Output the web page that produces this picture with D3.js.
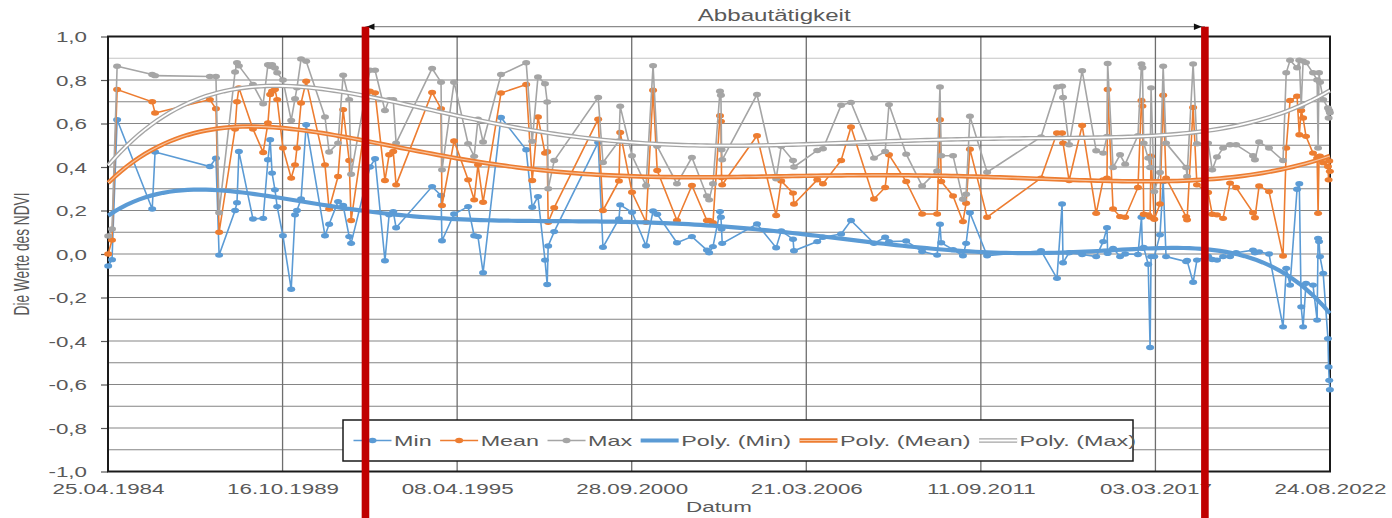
<!DOCTYPE html>
<html>
<head>
<meta charset="utf-8">
<script src="https://cdn.jsdelivr.net/npm/d3@7"></script>
<style>
  body { margin: 0; background: #fff; }
  text { font-family: "Liberation Sans", Arial, sans-serif; }
</style>
</head>
<body>
<div id="chart"></div>
<script>
// acquisition dates as decimal years
const dates = [
  1984.32, 1984.44, 1984.60, 1985.70, 1985.79, 1987.51, 1987.70, 1987.80, 1988.30, 1988.36,
  1988.42, 1988.86, 1989.18, 1989.33, 1989.40, 1989.46, 1989.55, 1989.62, 1989.80, 1990.06,
  1990.18, 1990.24, 1990.37, 1990.53, 1991.12, 1991.25, 1991.53, 1991.69, 1991.88, 1991.94,
  1992.53, 1992.69, 1993.00, 1993.13, 1993.26, 1993.35, 1994.48, 1994.76, 1994.79, 1995.17,
  1995.61, 1995.80, 1995.92, 1996.08, 1996.64, 1997.43, 1997.62, 1997.80, 1998.02, 1998.09,
  1998.12, 1998.31, 1999.69, 1999.84, 2000.34, 2000.38, 2000.75, 2001.19, 2001.41, 2001.54,
  2002.16, 2002.63, 2003.10, 2003.17, 2003.29, 2003.51, 2003.54, 2003.56, 2003.58, 2004.67,
  2005.27, 2005.43, 2005.80, 2005.83, 2006.56, 2006.74, 2007.31, 2007.62, 2008.34, 2008.69,
  2008.81, 2009.35, 2009.85, 2010.32, 2010.41, 2010.45, 2010.82, 2011.13, 2011.23, 2011.35,
  2011.89, 2013.58, 2014.08, 2014.24, 2014.27, 2014.46, 2014.87, 2015.31, 2015.53, 2015.65,
  2015.67, 2015.84, 2016.06, 2016.22, 2016.62, 2016.73, 2016.76, 2016.80, 2016.94, 2017.00,
  2017.03, 2017.13, 2017.31, 2017.41, 2017.50, 2018.13, 2018.16, 2018.35, 2018.47, 2018.82,
  2018.95, 2019.10, 2019.29, 2019.51, 2019.70, 2020.23, 2020.29, 2020.42, 2020.73, 2021.17,
  2021.27, 2021.39, 2021.61, 2021.68, 2021.74, 2021.80, 2021.89, 2022.11, 2022.24, 2022.27,
  2022.30, 2022.33, 2022.43, 2022.58, 2022.60, 2022.62, 2022.64
];

const minVals = [
  -0.055, -0.026, 0.617, 0.207, 0.469, 0.402, 0.44, -0.005, 0.20, 0.236,
  0.471, 0.161, 0.164, 0.433, 0.525, 0.372, 0.295, 0.218, 0.084, -0.162,
  0.18, 0.20, 0.253, 0.594, 0.084, 0.137, 0.241, 0.223, 0.08, 0.049,
  0.40, 0.438, -0.031, 0.18, 0.195, 0.121, 0.31, 0.269, 0.061, 0.184,
  0.218, 0.084, 0.08, -0.086, 0.628, 0.479, 0.215, 0.264, -0.028, -0.14,
  0.037, 0.103, 0.513, 0.031, 0.161, 0.226, 0.192, 0.038, 0.198, 0.183,
  0.052, 0.08, 0.018, 0.006, 0.034, 0.195, 0.169, 0.115, 0.049, 0.138,
  0.029, 0.106, 0.068, 0.015, 0.057, 0.077, 0.092, 0.154, 0.049, 0.077,
  0.057, 0.06, 0.011, -0.005, 0.137, 0.052, 0.02, -0.008, 0.049, 0.19,
  -0.008, 0.015, -0.112, 0.23, -0.04, 0.006, -0.002, -0.012, 0.057, 0.121,
  0.003, 0.026, -0.012, 0.0, -0.002, 0.169, 0.026, 0.03, -0.047, -0.43,
  -0.012, -0.012, 0.088, 0.333, -0.012, -0.035, -0.03, -0.13, -0.028, -0.01,
  -0.025, -0.028, -0.012, -0.012, 0.006, 0.018, 0.006, 0.01, 0.0, -0.335,
  -0.066, -0.143, 0.298, 0.323, -0.243, -0.335, -0.135, -0.143, -0.304, 0.072,
  0.057, -0.012, -0.089, -0.389, -0.519, -0.581, -0.624
];

const meanVals = [
  0.00, 0.064, 0.756, 0.70, 0.648, 0.71, 0.668, 0.10, 0.575, 0.70,
  0.764, 0.575, 0.467, 0.602, 0.733, 0.748, 0.756, 0.71, 0.487, 0.349,
  0.41, 0.487, 0.694, 0.794, 0.41, 0.207, 0.356, 0.664, 0.43, 0.154,
  0.748, 0.741, 0.338, 0.456, 0.471, 0.318, 0.743, 0.668, 0.223, 0.52,
  0.341, 0.249, 0.41, 0.238, 0.74, 0.779, 0.338, 0.63, 0.464, 0.47,
  0.146, 0.213, 0.62, 0.20, 0.336, 0.559, 0.284, 0.146, 0.753, 0.384,
  0.154, 0.315, 0.154, 0.154, 0.144, 0.636, 0.61, 0.352, 0.318, 0.544,
  0.177, 0.336, 0.28, 0.23, 0.341, 0.323, 0.43, 0.584, 0.253, 0.306,
  0.456, 0.333, 0.184, 0.184, 0.617, 0.333, 0.267, 0.149, 0.233, 0.482,
  0.169, 0.349, 0.556, 0.556, 0.51, 0.338, 0.591, 0.187, 0.341, 0.349,
  0.756, 0.207, 0.172, 0.169, 0.306, 0.706, 0.68, 0.183, 0.18, 0.17,
  0.45, 0.16, 0.23, 0.73, 0.349, 0.172, 0.157, 0.674, 0.318, 0.283,
  0.183, 0.18, 0.164, 0.326, 0.306, 0.19, 0.167, 0.313, 0.287, -0.009,
  0.487, 0.706, 0.725, 0.548, 0.66, 0.625, 0.541, 0.464, 0.441, 0.187,
  0.449, 0.45, 0.42, 0.402, 0.341, 0.428, 0.38
];

const maxVals = [
  0.083, 0.115, 0.863, 0.825, 0.82, 0.816, 0.816, 0.19, 0.837, 0.879,
  0.865, 0.779, 0.691, 0.87, 0.863, 0.87, 0.855, 0.833, 0.80, 0.614,
  0.714, 0.764, 0.897, 0.886, 0.63, 0.469, 0.51, 0.822, 0.71, 0.367,
  0.845, 0.845, 0.66, 0.71, 0.71, 0.51, 0.853, 0.79, 0.387, 0.79,
  0.507, 0.449, 0.62, 0.515, 0.825, 0.879, 0.518, 0.814, 0.783, 0.699,
  0.30, 0.43, 0.72, 0.421, 0.52, 0.679, 0.452, 0.315, 0.866, 0.495,
  0.323, 0.444, 0.267, 0.249, 0.323, 0.748, 0.73, 0.479, 0.433, 0.733,
  0.346, 0.495, 0.43, 0.40, 0.476, 0.484, 0.684, 0.697, 0.441, 0.471,
  0.687, 0.459, 0.313, 0.382, 0.768, 0.452, 0.452, 0.252, 0.275, 0.633,
  0.376, 0.538, 0.768, 0.771, 0.72, 0.502, 0.843, 0.475, 0.464, 0.541,
  0.876, 0.398, 0.456, 0.413, 0.544, 0.874, 0.856, 0.51, 0.441, 0.398,
  0.764, 0.287, 0.375, 0.863, 0.51, 0.398, 0.356, 0.874, 0.507, 0.51,
  0.387, 0.446, 0.487, 0.502, 0.502, 0.452, 0.433, 0.515, 0.487, 0.43,
  0.833, 0.891, 0.856, 0.891, 0.679, 0.887, 0.88, 0.833, 0.80, 0.487,
  0.833, 0.79, 0.71, 0.671, 0.625, 0.66, 0.65
];

const xTickLabels = ["25.04.1984", "16.10.1989", "08.04.1995", "28.09.2000",
                     "21.03.2006", "11.09.2011", "03.03.2017", "24.08.2022"];
const yTicks = [-1, -0.8, -0.6, -0.4, -0.2, 0, 0.2, 0.4, 0.6, 0.8, 1];
// start and end of mining activity (decimal years)
const abbau = [1992.39, 2018.72];
const abbauLabel = "Abbautätigkeit";
const seriesNames = ["Min", "Mean", "Max"];
const colors = ["#5b9bd5", "#ed7d31", "#a5a5a5"];

const width = 1392, height = 518;
const margin = { top: 36.5, right: 62, bottom: 46.5, left: 108 };
const sx = 1.6; // text is horizontally stretched in the original

function fromDecimalYear(v) {
  const y = Math.floor(v);
  const a = Date.UTC(y, 0, 1), b = Date.UTC(y + 1, 0, 1);
  return new Date(a + (v - y) * (b - a));
}
const parseDate = d3.utcParse("%d.%m.%Y");
const xTickDates = xTickLabels.map(parseDate);

const x = d3.scaleUtc()
  .domain([xTickDates[0], xTickDates[xTickDates.length - 1]])
  .range([margin.left, width - margin.right]);
const y = d3.scaleLinear()
  .domain([-1, 1])
  .range([height - margin.bottom, margin.top]);

const svg = d3.select("#chart").append("svg")
  .attr("width", width).attr("height", height);

function stretchText(g, txt, tx, ty, size, anchor, scale) {
  return g.append("text")
    .attr("transform", `translate(${tx},${ty}) scale(${scale},1)`)
    .attr("text-anchor", anchor)
    .attr("font-size", size)
    .attr("fill", "#595959")
    .text(txt);
}

// gridlines
const grid = svg.append("g");
grid.selectAll("line.h")
  .data(d3.range(-10, 11).map(i => i / 10))
  .join("line")
    .attr("x1", margin.left).attr("x2", width - margin.right)
    .attr("y1", d => y(d)).attr("y2", d => y(d))
    .attr("stroke", d => Math.abs(d - 0.9) < 1e-6 ? "#c4c4c4" : "#858585")
    .attr("stroke-width", 1.2);
grid.selectAll("line.v")
  .data(xTickDates.slice(1, -1))
  .join("line")
    .attr("x1", d => x(d)).attr("x2", d => x(d))
    .attr("y1", margin.top).attr("y2", height - margin.bottom)
    .attr("stroke", "#6e6e6e")
    .attr("stroke-width", 1.3);

// axes
const yAxis = svg.append("g")
  .attr("transform", `translate(${margin.left},0)`)
  .call(d3.axisLeft(y).tickValues(yTicks).tickSize(7)
    .tickFormat(d => d3.format(".1f")(d).replace(".", ",").replace("−", "-")));
yAxis.select(".domain").remove();
yAxis.selectAll(".tick line").attr("stroke", "#595959").attr("stroke-width", 1.2);
yAxis.selectAll(".tick text")
  .attr("x", null).attr("dy", null)
  .attr("transform", `translate(-21,5) scale(${sx},1)`)
  .attr("font-size", 14).attr("fill", "#595959")
  .attr("font-family", "Liberation Sans, Arial, sans-serif");

const xAxis = svg.append("g")
  .attr("transform", `translate(0,${height - margin.bottom})`)
  .call(d3.axisBottom(x).tickValues(xTickDates).tickSize(0)
    .tickFormat(d3.utcFormat("%d.%m.%Y")));
xAxis.select(".domain").remove();
xAxis.selectAll(".tick text")
  .attr("y", null).attr("dy", null)
  .attr("transform", `translate(0,22.5) scale(${sx},1)`)
  .attr("font-size", 14).attr("fill", "#595959")
  .attr("font-family", "Liberation Sans, Arial, sans-serif");

// plot area frame
svg.append("rect")
  .attr("x", margin.left).attr("y", margin.top)
  .attr("width", width - margin.right - margin.left)
  .attr("height", height - margin.bottom - margin.top)
  .attr("fill", "none").attr("stroke", "#1a1a1a").attr("stroke-width", 2);

// data series
const series = [minVals, meanVals, maxVals].map((vals, i) => ({
  name: seriesNames[i], color: colors[i],
  points: dates.map((d, j) => ({ date: fromDecimalYear(d), value: vals[j] }))
}));

const line = d3.line().x(d => x(d.date)).y(d => y(d.value));
series.forEach(s => {
  const g = svg.append("g");
  g.append("path").datum(s.points)
    .attr("d", line).attr("fill", "none")
    .attr("stroke", s.color).attr("stroke-width", 1.6);
  g.selectAll("ellipse").data(s.points).join("ellipse")
    .attr("cx", d => x(d.date)).attr("cy", d => y(d.value))
    .attr("rx", 4).attr("ry", 2.7)
    .attr("fill", s.color);
});

// polynomial trendlines (order 6, least squares)
function polyFit(xs, ys, deg) {
  const n = deg + 1;
  const A = Array.from({ length: n }, () => new Array(n + 1).fill(0));
  xs.forEach((xv, k) => {
    for (let r = 0; r < n; r++) {
      for (let c = 0; c < n; c++) A[r][c] += Math.pow(xv, r + c);
      A[r][n] += ys[k] * Math.pow(xv, r);
    }
  });
  for (let i = 0; i < n; i++) {
    let p = i;
    for (let r = i + 1; r < n; r++) if (Math.abs(A[r][i]) > Math.abs(A[p][i])) p = r;
    [A[i], A[p]] = [A[p], A[i]];
    for (let r = i + 1; r < n; r++) {
      const f = A[r][i] / A[i][i];
      for (let c = i; c <= n; c++) A[r][c] -= f * A[i][c];
    }
  }
  const coef = new Array(n).fill(0);
  for (let i = n - 1; i >= 0; i--) {
    let s = A[i][n];
    for (let c = i + 1; c < n; c++) s -= A[i][c] * coef[c];
    coef[i] = s / A[i][i];
  }
  return t => coef.reduce((acc, cf, i) => acc + cf * Math.pow(t, i), 0);
}

const t0 = +x.domain()[0], t1 = +x.domain()[1];
const norm = d => (+d - t0) / (t1 - t0) * 2 - 1;
const trendStyles = [
  [{ c: "#5b9bd5", w: 4.2 }],
  [{ c: "#ed7d31", w: 4.5 }, { c: "#f7c4a0", w: 1.2 }],
  [{ c: "#a5a5a5", w: 4.5 }, { c: "#ffffff", w: 1.8 }]
];
series.forEach((s, i) => {
  const f = polyFit(s.points.map(p => norm(p.date)), s.points.map(p => p.value), 6);
  const first = +s.points[0].date, last = +s.points[s.points.length - 1].date;
  const samples = d3.range(0, 201).map(k => {
    const d = new Date(first + (last - first) * k / 200);
    return { date: d, value: f(norm(d)) };
  });
  trendStyles[i].forEach(st => {
    svg.append("path").datum(samples)
      .attr("d", line).attr("fill", "none")
      .attr("stroke", st.c).attr("stroke-width", st.w);
  });
});

// legend
const lg = svg.append("g");
lg.append("rect")
  .attr("x", 343).attr("y", 420).attr("width", 790).attr("height", 41)
  .attr("fill", "#fff").attr("stroke", "#1a1a1a").attr("stroke-width", 1.5);
const legendItems = [
  ...series.map((s, i) => ({ label: s.name, style: [{ c: colors[i], w: 1.6 }], marker: colors[i] })),
  ...series.map((s, i) => ({ label: `Poly. (${s.name})`, style: trendStyles[i], marker: null }))
];
let lx = 353.5;
const ly = 440.5;
legendItems.forEach(it => {
  it.style.forEach(st => {
    lg.append("line").attr("x1", lx).attr("x2", lx + 38).attr("y1", ly).attr("y2", ly)
      .attr("stroke", st.c).attr("stroke-width", st.w);
  });
  if (it.marker) {
    lg.append("ellipse").attr("cx", lx + 19).attr("cy", ly).attr("rx", 4).attr("ry", 2.7)
      .attr("fill", it.marker);
  }
  const t = stretchText(lg, it.label, lx + 40.5, ly + 5, 14.6, "start", sx);
  lx = lx + 40.5 + t.node().getComputedTextLength() * sx + 8.5;
});

// axis titles
stretchText(svg, "Datum", (margin.left + width - margin.right) / 2, 512, 14, "middle", sx);
svg.append("text")
  .attr("transform", `translate(29,${y(0)}) scale(${sx},1) rotate(-90)`)
  .attr("text-anchor", "middle")
  .attr("font-size", 13.7)
  .attr("fill", "#595959")
  .text("Die Werte des NDVI");

// mining activity markers
const ax0 = x(fromDecimalYear(abbau[0])), ax1 = x(fromDecimalYear(abbau[1]));
const arrowY = 26.7;
svg.append("line")
  .attr("x1", ax0).attr("x2", ax1).attr("y1", arrowY).attr("y2", arrowY)
  .attr("stroke", "#8c8c8c").attr("stroke-width", 1.2);
svg.append("path")
  .attr("d", `M${ax0 + 1},${arrowY} l8,-3.2 l0,6.4 Z M${ax1 - 3},${arrowY} l-8,-3.2 l0,6.4 Z`)
  .attr("fill", "#111");
stretchText(svg, abbauLabel, (ax0 + ax1) / 2 - 11, 21, 17, "middle", 1.42);
svg.selectAll("rect.abbau")
  .data([ax0, ax1])
  .join("rect")
    .attr("class", "abbau")
    .attr("x", d => d - 3.8).attr("y", arrowY)
    .attr("width", 7.6).attr("height", height - arrowY)
    .attr("fill", "#c00000");
</script>
</body>
</html>
